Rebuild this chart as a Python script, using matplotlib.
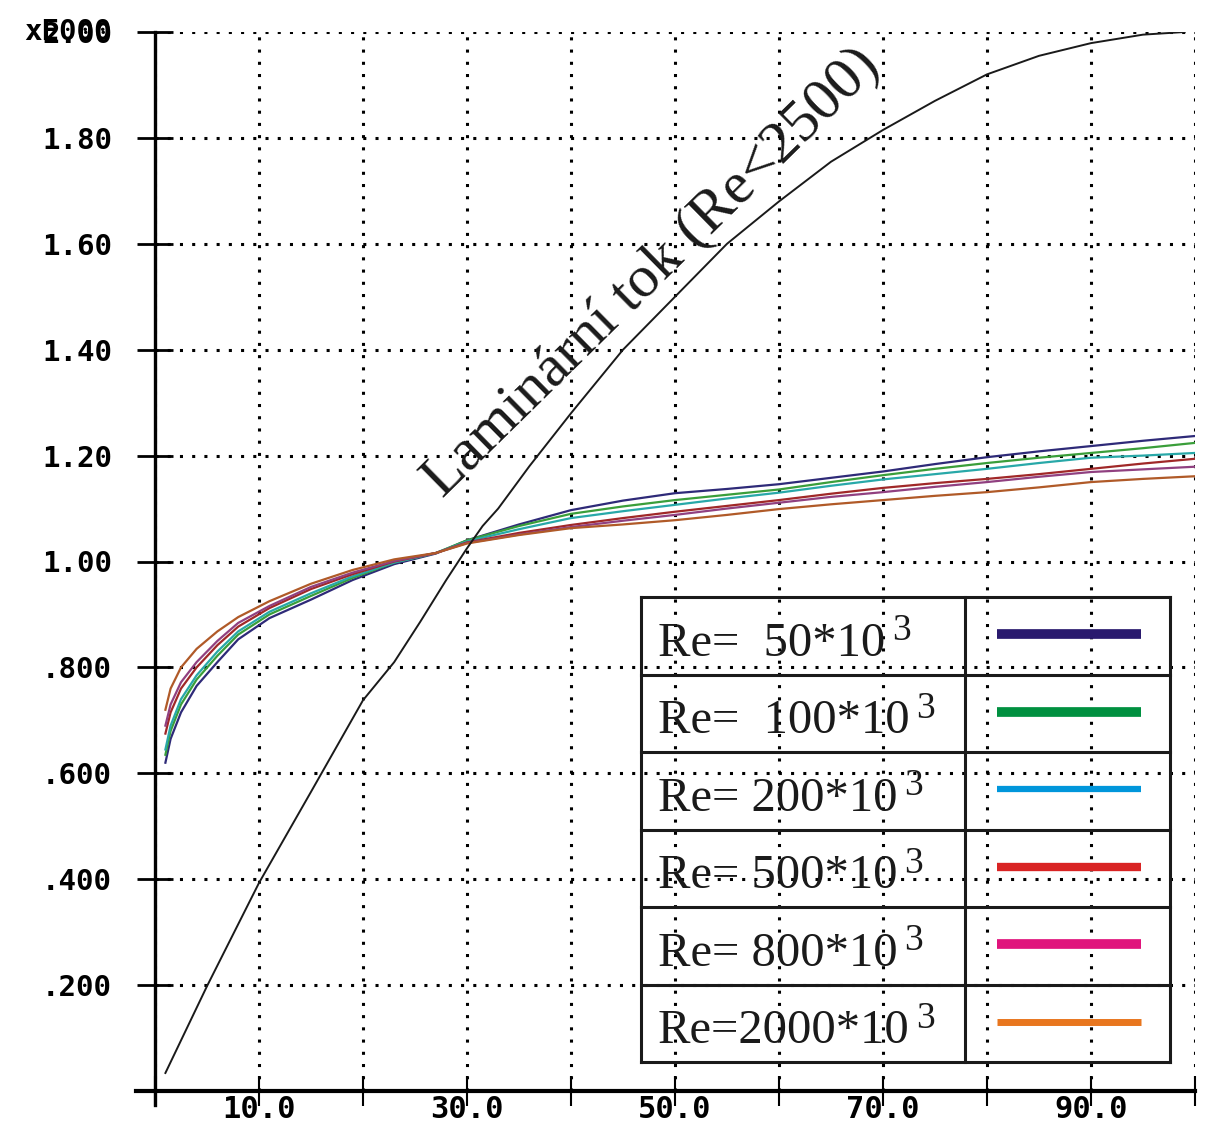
import matplotlib
matplotlib.use("Agg")
import matplotlib.pyplot as plt

# abscisses communes des courbes Re
x_re = [1, 1.5, 2.5, 4, 6, 8, 11, 15, 19, 23, 27, 30, 35, 40, 45, 50, 55, 60, 65, 70, 75, 80, 85, 90, 95, 100]
re_50 = [0.62, 0.665, 0.715, 0.765, 0.81, 0.853, 0.893, 0.928, 0.965, 0.995, 1.015, 1.04, 1.07, 1.097, 1.115, 1.129, 1.137, 1.146, 1.158, 1.17, 1.184, 1.197, 1.208, 1.218, 1.228, 1.237]
re_100 = [0.635, 0.68, 0.73, 0.777, 0.822, 0.862, 0.9, 0.935, 0.969, 0.998, 1.016, 1.04, 1.067, 1.09, 1.104, 1.116, 1.126, 1.136, 1.15, 1.163, 1.175, 1.186, 1.196, 1.205, 1.214, 1.224]
re_200 = [0.645, 0.69, 0.74, 0.785, 0.83, 0.868, 0.905, 0.94, 0.972, 0.998, 1.016, 1.038, 1.061, 1.082, 1.095, 1.107, 1.119, 1.13, 1.143, 1.155, 1.165, 1.175, 1.186, 1.196, 1.2, 1.205]
re_500 = [0.675, 0.715, 0.76, 0.8, 0.842, 0.877, 0.912, 0.948, 0.976, 1.0, 1.016, 1.036, 1.054, 1.069, 1.082, 1.094, 1.105, 1.116, 1.128, 1.139, 1.148, 1.156, 1.165, 1.175, 1.185, 1.194]
re_800 = [0.69, 0.73, 0.772, 0.81, 0.85, 0.884, 0.916, 0.952, 0.979, 1.001, 1.016, 1.035, 1.051, 1.065, 1.077, 1.088, 1.1, 1.111, 1.122, 1.131, 1.141, 1.15, 1.16, 1.169, 1.174, 1.179]
re_2000 = [0.72, 0.76, 0.8, 0.835, 0.868, 0.895, 0.925, 0.958, 0.984, 1.004, 1.016, 1.034, 1.05, 1.063, 1.07, 1.078, 1.088, 1.099, 1.108, 1.116, 1.124, 1.131, 1.14, 1.15, 1.156, 1.161]

# courbe laminaire
x_lam = [1, 5, 10, 15, 20, 23, 25.5, 28, 30, 31.5, 33, 36, 40, 45, 50, 55, 60, 65, 70, 75, 80, 85, 90, 95, 99]
y_lam = [0.034, 0.198, 0.393, 0.565, 0.738, 0.81, 0.886, 0.965, 1.025, 1.067, 1.10, 1.18, 1.28, 1.40, 1.50, 1.60, 1.68, 1.755, 1.815, 1.87, 1.92, 1.955, 1.979, 1.995, 2.0]

y_ticks = [0.2, 0.4, 0.6, 0.8, 1.0, 1.2, 1.4, 1.6, 1.8, 2.0]
y_labels = ['.200', '.400', '.600', '.800', '1.00', '1.20', '1.40', '1.60', '1.80', '2.00']
x_ticks = [0, 10, 20, 30, 40, 50, 60, 70, 80, 90, 100]
x_labels = ['', '10.0', '', '30.0', '', '50.0', '', '70.0', '', '90.0', '']

series = [re_50, re_100, re_200, re_500, re_800, re_2000]
legend_labels = ['Re=  50*10', 'Re=  100*10', 'Re= 200*10', 'Re= 500*10', 'Re= 800*10', 'Re=2000*10']
line_colors = ['#2e2a78', '#3a9e3a', '#28a8a8', '#a02828', '#904080', '#b05a28']
legend_colors = ['#2a1a6e', '#009040', '#0096db', '#d92424', '#e0147c', '#e8761e']
legend_widths = [7, 7, 4.5, 6, 7, 5]

fig = plt.figure(figsize=(12.1, 11.22), dpi=100)
ax = fig.add_axes([155 / 1210, 31 / 1122, 1040 / 1210, 1059 / 1122])

for ys, c in zip(series, line_colors):
    ax.plot(x_re, ys, color=c, lw=1.6)
ax.plot(x_lam, y_lam, color='#1a1a1a', lw=1.4)

ax.text(47.8, 1.545, 'Laminární tok (Re<2500)', rotation=44.5, rotation_mode='anchor',
        ha='center', va='center', fontsize=43, family='Liberation Serif', color='#1a1a1a')

ax.set_xlim(0, 100)
ax.set_ylim(0, 2.0)
ax.set_xticks(x_ticks)
ax.set_xticklabels(x_labels, family='DejaVu Sans Mono', fontweight='bold', fontsize=22)
ax.set_yticks(y_ticks)
ax.set_yticklabels(y_labels, family='DejaVu Sans Mono', fontweight='bold', fontsize=21)
ax.tick_params(axis='y', direction='inout', length=26, width=2, pad=18)
ax.tick_params(axis='x', direction='inout', length=22, width=1.5, pad=-8)
ax.grid(True, color='black', linestyle=(0, (1, 3)), linewidth=2.2)

# surimpression du multiplicateur sur le label du haut
ax.annotate('xE000', xy=(0, 2.0), xycoords=('axes fraction', 'data'), xytext=(-31, 0),
            textcoords='offset points', ha='right', va='center',
            family='DejaVu Sans Mono', fontweight='bold', fontsize=21)

for s in ['top', 'right']:
    ax.spines[s].set_visible(False)
ax.spines['left'].set_linewidth(2.4)
ax.spines['left'].set_bounds(-0.027, 2.0)
ax.spines['bottom'].set_linewidth(3)
ax.spines['bottom'].set_bounds(-1.8, 100)

# tableau de légende
leg = fig.add_axes([641 / 1210, 60 / 1122, 529 / 1210, 465 / 1122])
leg.set_xlim(0, 1)
leg.set_ylim(0, 6)
leg.axis('off')
for k in range(7):
    leg.plot([0, 1], [k, k], color='#1a1a1a', lw=2.2, solid_capstyle='projecting', clip_on=False)
for xv in [0, 0.6125, 1]:
    leg.plot([xv, xv], [0, 6], color='#1a1a1a', lw=2.2, solid_capstyle='projecting', clip_on=False)
for i, (lab, c, w) in enumerate(zip(legend_labels, legend_colors, legend_widths)):
    top = 6 - i
    t = leg.text(0.032, top - 0.76, lab, ha='left', va='baseline', fontsize=35,
                 family='Liberation Serif', color='#1a1a1a')
    leg.annotate('3', xy=(1, 1), xycoords=t, xytext=(5, 6), textcoords='offset points',
                 ha='left', va='top', fontsize=27, family='Liberation Serif', color='#1a1a1a')
    leg.plot([0.673, 0.945], [top - 0.48, top - 0.48], color=c, lw=w, solid_capstyle='butt')

plt.savefig('out.png', dpi=100)
